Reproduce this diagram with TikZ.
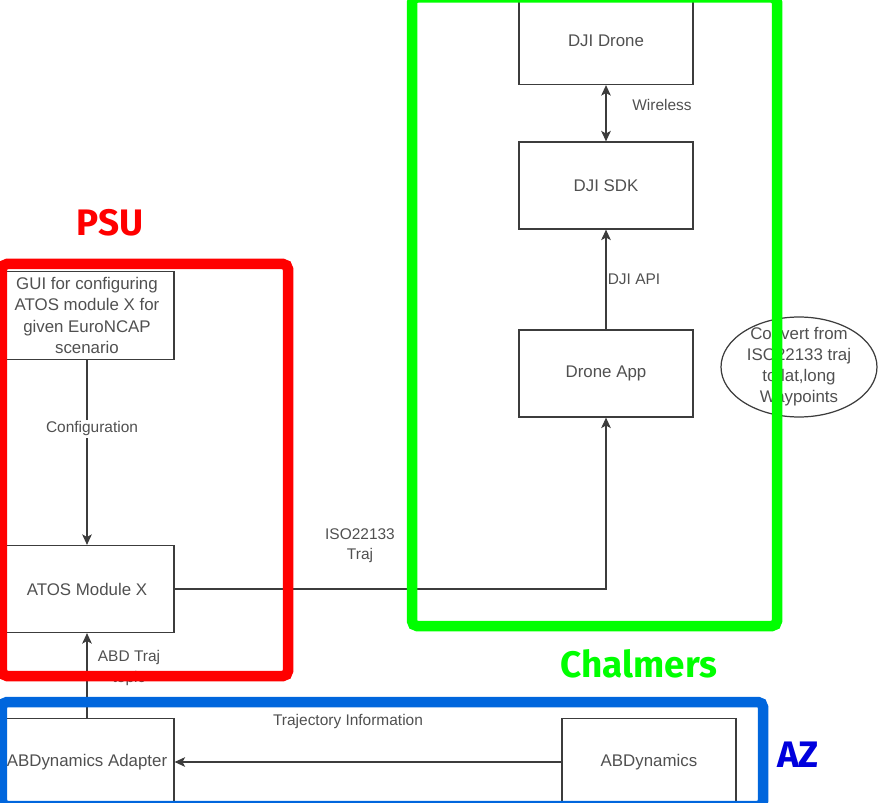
\documentclass[tikz,border=0pt]{standalone}
\usepackage{fontspec}
\setmainfont{Liberation Sans}
\newfontfamily\teamfont{Fira Sans}
\usetikzlibrary{arrows.meta,shapes.geometric}
\definecolor{txtgray}{RGB}{80,80,80}
\definecolor{linegray}{RGB}{60,60,60}
\definecolor{psured}{RGB}{255,0,0}
\definecolor{chgreen}{RGB}{0,255,0}
\definecolor{azblue}{RGB}{0,102,221}
\definecolor{aztext}{RGB}{0,0,221}

\begin{document}
\begin{tikzpicture}[x=0.02cm, y=-0.02cm,
		blk/.style={draw=linegray, line width=0.7pt, minimum width=3.48cm, minimum height=1.74cm, align=center, text=txtgray, font=\fontsize{9.6}{12}\selectfont},
		lbl/.style={text=txtgray, align=center, inner sep=1pt, font=\fontsize{8.8}{11.5}\selectfont},
		arr/.style={draw=linegray, line width=0.7pt, -{Stealth[length=6pt,width=5.5pt,inset=1.5pt]}},
		darr/.style={draw=linegray, line width=0.7pt, {Stealth[length=6pt,width=5.5pt,inset=1.5pt]}-{Stealth[length=6pt,width=5.5pt,inset=1.5pt]}},
		team/.style={line width=0.21cm, rounded corners=0.1cm},
		tag/.style={font=\teamfont\bfseries\fontsize{21}{24}\selectfont}]
			\useasboundingbox (0,0) rectangle (878,803);
			
			% boxes
			\node	(drone) at (606,41) [blk] {DJI Drone};
			\node	(sdk) at (606,185.5) [blk] {DJI SDK};
			\node	(app) at (606,373.5) [blk] {Drone App};
			\node	(gui) at (87,315.5) [blk] {GUI for configuring\\ATOS module X for\\given EuroNCAP\\scenario};
			\node	(atos) at (87,589) [blk] {ATOS Module X};
			\node	(adapter) at (87,762) [blk] {ABDynamics Adapter};
			\node	(abd) at (649,762) [blk] {ABDynamics};
			\node	(conv) at (799,367) [draw=linegray, line width=0.7pt, ellipse, minimum width=3.12cm, minimum height=2cm, inner xsep=0pt, inner ysep=-0.1cm, align=center, text=txtgray, font=\fontsize{9.6}{12}\selectfont] {Convert from\\ISO22133 traj\\to lat,long\\Waypoints};
			
			\draw 
			(sdk) edge[darr] (drone)
			(app) edge[arr] (sdk)
			(gui) edge[arr] (atos)
			(adapter) edge[arr] (atos)
			(abd) edge[arr] (adapter)
			;
			\draw[arr] (atos.east) -| (app.south);
			
			% labels
			\node	(wl) at (662,105) [lbl] {Wireless};
			\node	(api) at (634,279) [lbl] {DJI API};
			\node	(cfg) at (92,429) [lbl, fill=white] {Configuration};
			\node	(iso) at (360,546) [lbl] {ISO22133\\Traj};
			\node	(topic) at (129,668) [lbl] {ABD Traj\\topic};
			\node	(tinfo) at (348,721) [lbl] {Trajectory Information};
			
			% teams
			\draw[team, psured] (2,264) rectangle (288,676);
			\draw[team, chgreen] (412,-2.5) rectangle (777,626);
			\draw[team, azblue] (2,702) rectangle (763,806);
			\node	(psu) at (110,223) [tag, text=psured] {PSU};
			\node	(chalmers) at (639,664) [tag, text=chgreen] {Chalmers};
			\node	(az) at (798,755) [tag, text=aztext] {AZ};
		\end{tikzpicture}
\end{document}
